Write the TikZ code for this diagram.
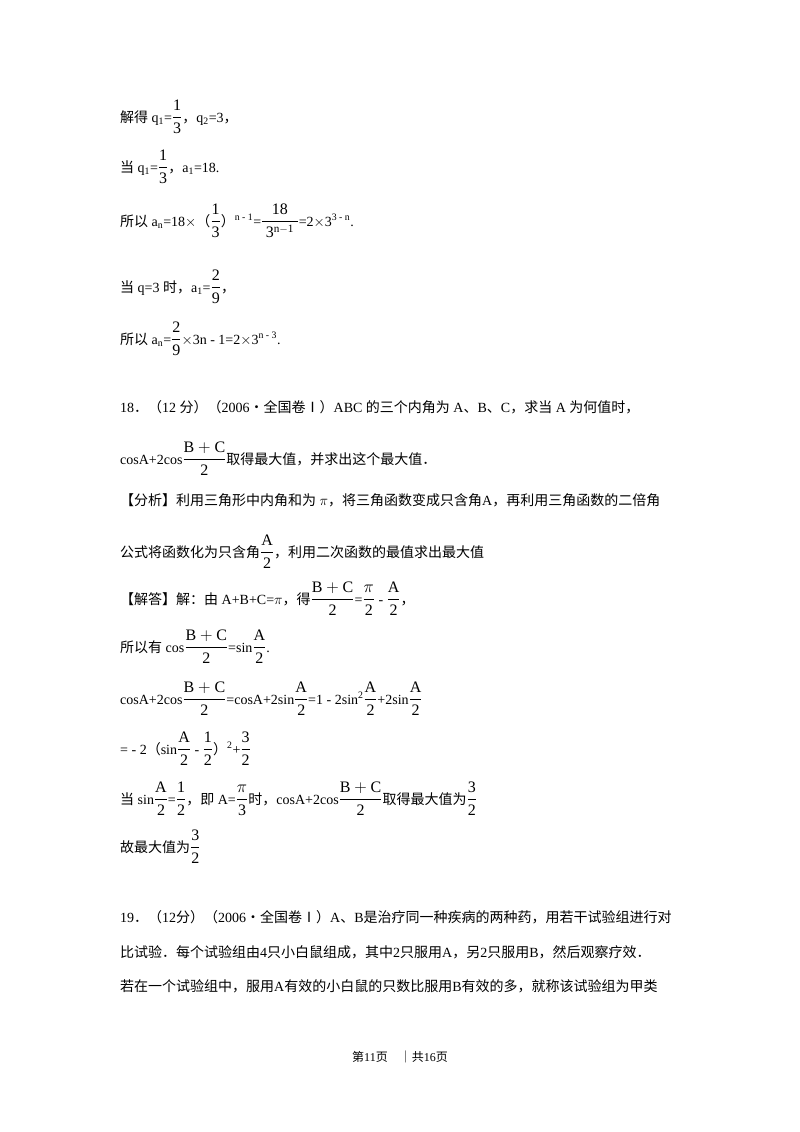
\documentclass[tikz,border=0pt]{standalone}
\usepackage{amsmath}
\usepackage{fontspec}
\setmainfont{Liberation Serif}
\newfontfamily\cjk{Noto Sans CJK SC}
\newcommand\zh[1]{{\cjk #1}}
\newcommand\fr[2]{{\fontsize{16pt}{18pt}\selectfont$\dfrac{\mathrm{#1}}{\mathrm{#2}}$}}
\begin{document}
\begin{tikzpicture}[x=1pt,y=-1pt,line/.style={anchor=base west,inner sep=0pt,font=\fontsize{14pt}{16pt}\selectfont}]
\useasboundingbox (0,0) rectangle (800,1132);
\fill[white] (0,0) rectangle (800,1132);
\node[line] (l1) at (120,122) {\zh{解得} q\textsubscript{1}=\fr{1}{3}\zh{，}q\textsubscript{2}=3\zh{，}};
\node[line] (l2) at (120,172) {\zh{当} q\textsubscript{1}=\fr{1}{3}\zh{，}a\textsubscript{1}=18.};
\node[line] (l3) at (120,226) {\zh{所以} a\textsubscript{n}=18$\times$\zh{（}\fr{1}{3}\zh{）}\textsuperscript{n - 1}=\fr{\;\;18\;\;}{3^{n-1}}=2$\times$3\textsuperscript{3 - n}.};
\node[line] (l4) at (120,292) {\zh{当} q=3 \zh{时，}a\textsubscript{1}=\fr{2}{9}\zh{，}};
\node[line] (l5) at (120,344) {\zh{所以} a\textsubscript{n}=\fr{2}{9}$\times$3n - 1=2$\times$3\textsuperscript{n - 3}.};
\node[line] (l6) at (120,412) {18\zh{．（}12 \zh{分）（}2006\zh{•全国卷Ⅰ）}ABC \zh{的三个内角为} A\zh{、}B\zh{、}C\zh{，求当} A \zh{为何值时，}};
\node[line] (l7) at (120,464) {cosA+2cos\fr{B+C}{2}\zh{取得最大值，并求出这个最大值．}};
\node[line] (l8) at (120,505) {\zh{【分析】利用三角形中内角和为} $\pi$\zh{，将三角函数变成只含角}A\zh{，再利用三角函数的二倍角}};
\node[line] (l9) at (120,557) {\zh{公式将函数化为只含角}\fr{A}{2}\zh{，利用二次函数的最值求出最大值}};
\node[line] (l10) at (120,604) {\zh{【解答】解：由} A+B+C=$\pi$\zh{，得}\fr{B+C}{2}=\fr{\pi}{2} - \fr{A}{2}\zh{，}};
\node[line] (l11) at (120,652) {\zh{所以有} cos\fr{B+C}{2}=sin\fr{A}{2}.};
\node[line] (l12) at (120,704) {cosA+2cos\fr{B+C}{2}=cosA+2sin\fr{A}{2}=1 - 2sin\textsuperscript{2}\fr{A}{2}+2sin\fr{A}{2}};
\node[line] (l13) at (120,754) {= - 2\zh{（}sin\fr{A}{2} - \fr{1}{2}\zh{）}\textsuperscript{2}+\fr{3}{2}};
\node[line] (l14) at (120,804) {\zh{当} sin\fr{A}{2}=\fr{1}{2}\zh{，即} A=\fr{\pi}{3}\zh{时，}cosA+2cos\fr{B+C}{2}\zh{取得最大值为}\fr{3}{2}};
\node[line] (l15) at (120,852) {\zh{故最大值为}\fr{3}{2}};
\node[line] (l16) at (120,922) {19\zh{．（}12\zh{分）（}2006\zh{•全国卷Ⅰ）}A\zh{、}B\zh{是治疗同一种疾病的两种药，用若干试验组进行对}};
\node[line] (l17) at (120,957) {\zh{比试验．每个试验组由}4\zh{只小白鼠组成，其中}2\zh{只服用}A\zh{，另}2\zh{只服用}B\zh{，然后观察疗效．}};
\node[line] (l18) at (120,991) {\zh{若在一个试验组中，服用}A\zh{有效的小白鼠的只数比服用}B\zh{有效的多，就称该试验组为甲类}};
\node[anchor=base,inner sep=0pt,font=\fontsize{12pt}{14pt}\selectfont] (ft) at (400,1061) {\zh{第}11\zh{页}\quad\zh{｜共}16\zh{页}};
\end{tikzpicture}
\end{document}
